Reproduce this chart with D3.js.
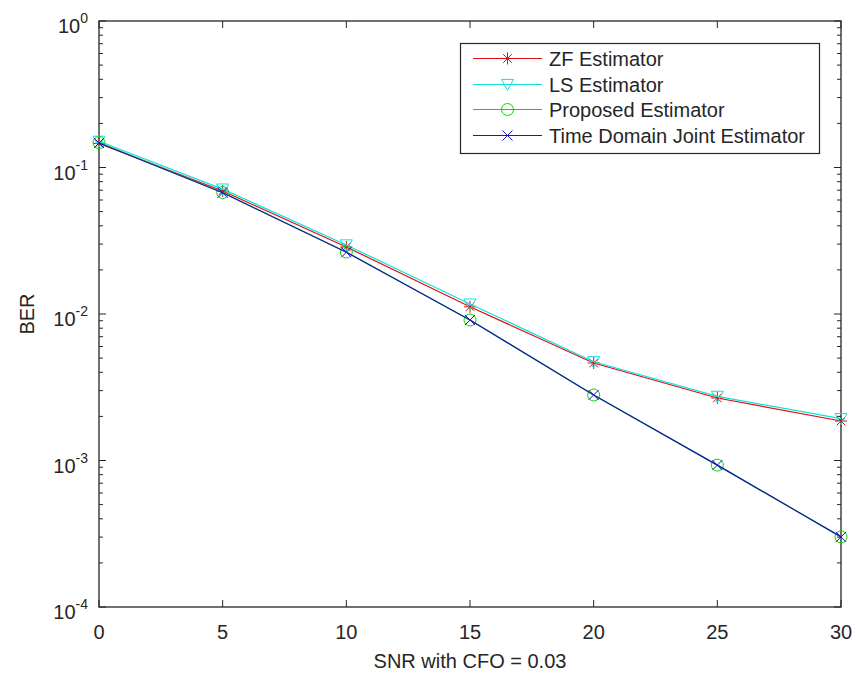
<!DOCTYPE html>
<html>
<head>
<meta charset="utf-8">
<script src="https://cdn.jsdelivr.net/npm/d3@7"></script>
<style>
  html, body { margin: 0; padding: 0; background: #fff; }
  svg { display: block; }
  text { font-family: "Liberation Sans", Arial, Helvetica, sans-serif; fill: #262626; }
</style>
</head>
<body>
<script>
// ---- data ----
const snr = [0, 5, 10, 15, 20, 25, 30];
const zfBer = [0.146, 0.0691, 0.0287, 0.0112, 0.00463, 0.00267, 0.00186];
const lsBer = [0.151, 0.0712, 0.0296, 0.0117, 0.00472, 0.00274, 0.00193];
const proposedBer = [0.148, 0.0675, 0.0265, 0.0091, 0.0028, 0.00093, 0.000301];
const tdJointBer = [0.147, 0.0672, 0.0264, 0.0091, 0.0028, 0.00093, 0.000301];
const seriesNames = ["ZF Estimator", "LS Estimator", "Proposed Estimator", "Time Domain Joint Estimator"];
const xTicks = [0, 5, 10, 15, 20, 25, 30];
const yTickExponents = [0, -1, -2, -3, -4];
const xLabel = "SNR with CFO = 0.03";
const yLabel = "BER";

// ---- layout ----
const W = 857, H = 677;
const L = 99, R = 841, T = 21, B = 607;
const axisColor = "#262626";

const svg = d3.select("body").append("svg").attr("width", W).attr("height", H);
svg.append("rect").attr("width", W).attr("height", H).attr("fill", "#fff");

const x = d3.scaleLinear().domain([0, 30]).range([L, R]);
const y = d3.scaleLog().domain([1e-4, 1]).range([B, T]);

// ---- series config ----
const series = [
  { name: seriesNames[0], values: zfBer, color: "#e01010", marker: "star" },
  { name: seriesNames[1], values: lsBer, color: "#10e0e0", marker: "tri" },
  { name: seriesNames[2], values: proposedBer, color: "#10d010", marker: "circle" },
  { name: seriesNames[3], values: tdJointBer, color: "#1a1ab0", marker: "x" }
];

function drawMarker(g, type, cx, cy, color) {
  const s = 6;
  if (type === "circle") {
    g.append("circle").attr("cx", cx).attr("cy", cy).attr("r", s)
      .attr("fill", "none").attr("stroke", color).attr("stroke-width", 1);
  } else if (type === "tri") {
    const p = [[cx - s, cy - s * 0.85], [cx + s, cy - s * 0.85], [cx, cy + s]];
    g.append("path").attr("d", "M" + p.map(d => d.join(",")).join("L") + "Z")
      .attr("fill", "none").attr("stroke", color).attr("stroke-width", 1);
  } else if (type === "x") {
    const d = 5;
    g.append("path").attr("d", `M${cx - d},${cy - d}L${cx + d},${cy + d}M${cx - d},${cy + d}L${cx + d},${cy - d}`)
      .attr("stroke", color).attr("stroke-width", 1).attr("fill", "none");
  } else if (type === "star") {
    const d = 6, e = 4.3;
    g.append("path").attr("d",
      `M${cx},${cy - d}L${cx},${cy + d}M${cx - e},${cy - e}L${cx + e},${cy + e}M${cx - e},${cy + e}L${cx + e},${cy - e}M${cx - d},${cy}L${cx + d},${cy}`)
      .attr("stroke", color).attr("stroke-width", 1).attr("fill", "none");
  }
}

// ---- axes box & ticks ----
const axG = svg.append("g");
const minorVals = [];
for (let e = -4; e < 0; e++) for (let m = 2; m <= 9; m++) minorVals.push(m * Math.pow(10, e));
minorVals.forEach(v => {
  axG.append("line").attr("x1", L).attr("x2", L + 4).attr("y1", y(v)).attr("y2", y(v))
    .attr("stroke", axisColor).attr("stroke-width", 1);
  axG.append("line").attr("x1", R).attr("x2", R - 4).attr("y1", y(v)).attr("y2", y(v))
    .attr("stroke", axisColor).attr("stroke-width", 1);
});
yTickExponents.forEach(e => {
  const v = Math.pow(10, e);
  axG.append("line").attr("x1", L).attr("x2", L + 7).attr("y1", y(v)).attr("y2", y(v))
    .attr("stroke", axisColor).attr("stroke-width", 1);
  axG.append("line").attr("x1", R).attr("x2", R - 7).attr("y1", y(v)).attr("y2", y(v))
    .attr("stroke", axisColor).attr("stroke-width", 1);
  const t = axG.append("text").attr("x", L - 11).attr("y", y(v) + 12)
    .attr("text-anchor", "end").attr("font-size", 20);
  t.append("tspan").text("10");
  t.append("tspan").attr("dy", -10).attr("font-size", 14).text(String(e));
});
xTicks.forEach(v => {
  axG.append("line").attr("x1", x(v)).attr("x2", x(v)).attr("y1", B).attr("y2", B - 7)
    .attr("stroke", axisColor).attr("stroke-width", 1);
  axG.append("line").attr("x1", x(v)).attr("x2", x(v)).attr("y1", T).attr("y2", T + 7)
    .attr("stroke", axisColor).attr("stroke-width", 1);
  axG.append("text").attr("x", x(v)).attr("y", B + 32)
    .attr("text-anchor", "middle").attr("font-size", 20).text(v);
});
axG.append("rect").attr("x", L).attr("y", T).attr("width", R - L).attr("height", B - T)
  .attr("fill", "none").attr("stroke", axisColor).attr("stroke-width", 1.3);

// axis labels
svg.append("text").attr("x", (L + R) / 2).attr("y", 668).attr("text-anchor", "middle")
  .attr("font-size", 20).text(xLabel);
svg.append("text").attr("transform", `translate(34,${(T + B) / 2}) rotate(-90)`)
  .attr("text-anchor", "middle").attr("font-size", 20).text(yLabel);

// ---- lines & markers ----
const line = d3.line().x((d, i) => x(snr[i])).y(d => y(d));
const plotG = svg.append("g");
series.forEach(s => {
  plotG.append("path").attr("d", line(s.values)).attr("fill", "none")
    .attr("stroke", s.color).attr("stroke-width", 1.2);
  const mg = plotG.append("g");
  s.values.forEach((v, i) => drawMarker(mg, s.marker, x(snr[i]), y(v), s.color));
});

// ---- legend ----
const lg = svg.append("g");
lg.append("rect").attr("x", 460.5).attr("y", 43.5).attr("width", 359).attr("height", 110)
  .attr("fill", "#fff").attr("stroke", axisColor).attr("stroke-width", 1.2);
series.forEach((s, i) => {
  const cy = Math.round(58 + i * 25.5) + 0.5;
  lg.append("line").attr("x1", 473).attr("x2", 542).attr("y1", cy).attr("y2", cy)
    .attr("stroke", s.color).attr("stroke-width", 1.2);
  drawMarker(lg, s.marker, 507.5, cy, s.color);
  lg.append("text").attr("x", 549).attr("y", cy + 7).attr("font-size", 20).text(s.name);
});
</script>
</body>
</html>
